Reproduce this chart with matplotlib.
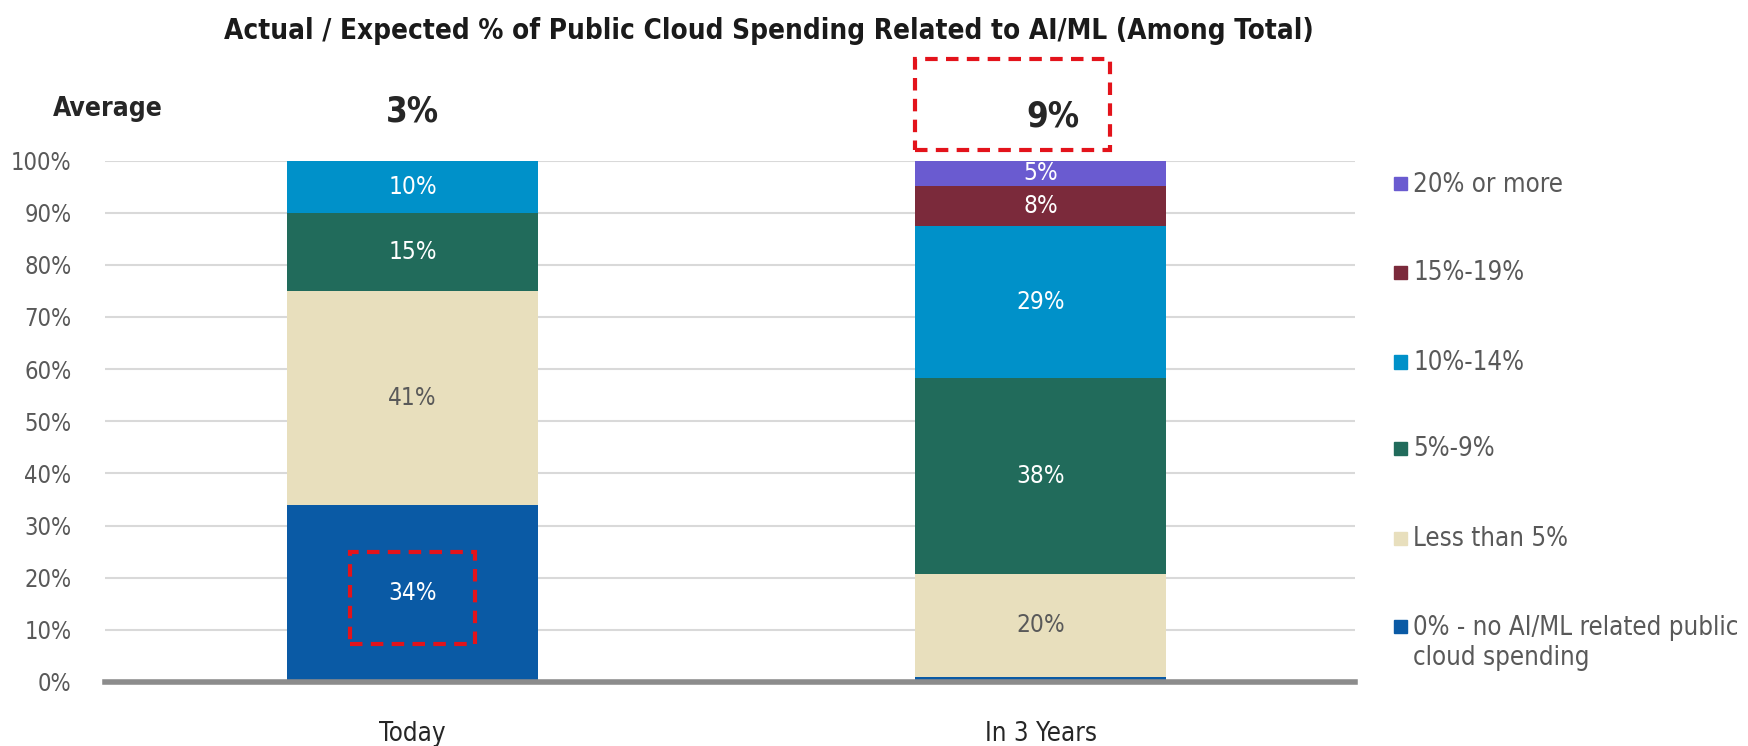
import matplotlib
matplotlib.use("Agg")
import matplotlib.pyplot as plt
from matplotlib.patches import Rectangle

plt.rcParams["font.family"] = ["DejaVu Sans"]
plt.rcParams["font.stretch"] = "condensed"

INK = "#262626"; MUTED = "#595959"; GRID = "#d9d9d9"; RED = "#e3131b"

periods = ["Today", "In 3 Years"]
averages = ["3%", "9%"]
buckets = ["0% - no AI/ML related public\ncloud spending", "Less than 5%", "5%-9%",
           "10%-14%", "15%-19%", "20% or more"]
colors = ["#0a5aa5", "#e8dfbd", "#216b5b", "#0091c9", "#7b2a3b", "#6a5bd0"]
label_colors = ["white", MUTED, "white", "white", "white", "white"]
today = [34, 41, 15, 10, 0, 0]
in_3_years = [1.0, 19.7, 37.6, 29.2, 7.6, 4.9]

fig = plt.figure(figsize=(17.48, 7.46), dpi=100)
ax = fig.add_axes([0.06, 0.0858, 0.715, 0.699])

x = [0, 1]
bottoms = [0.0, 0.0]
for i, name in enumerate(buckets):
    vals = [today[i], in_3_years[i]]
    ax.bar(x, vals, width=0.4, bottom=bottoms, color=colors[i], zorder=3)
    for xi, v, b in zip(x, vals, bottoms):
        if v >= 3:
            ax.text(xi, b + v / 2, f"{v:.0f}%", ha="center", va="center",
                    fontsize=17.5, color=label_colors[i], zorder=4)
    bottoms = [b + v for b, v in zip(bottoms, vals)]

ax.set_xlim(-0.49, 1.50)
ax.set_ylim(0, 100)
ax.set_yticks(range(0, 101, 10), [f"{t}%" for t in range(0, 101, 10)])
ax.set_xticks(x, periods)
ax.tick_params(length=0, labelsize=17, colors=MUTED)
ax.tick_params(axis="x", labelsize=18.5, pad=28, colors=INK)
ax.tick_params(axis="y", pad=24)
ax.grid(axis="y", color=GRID, linewidth=1.5, zorder=0)
for s in ["top", "right", "left"]:
    ax.spines[s].set_visible(False)
ax.spines["bottom"].set_color("#8c8c8c")
ax.spines["bottom"].set_linewidth(4)
ax.spines["bottom"].set_zorder(5)

# average row above the bars
fig.text(0.030, 0.854, "Average", fontsize=19, fontweight="bold", color=INK, va="center")
ax.text(0, 109.5, averages[0], ha="center", va="center", fontsize=25,
        fontweight="bold", color=INK, clip_on=False)
ax.text(1.02, 108.5, averages[1], ha="center", va="center", fontsize=25,
        fontweight="bold", color=INK, clip_on=False)

# red dashed highlight boxes
for (x0, y0, w, h) in [(0.80, 102, 0.31, 17.5), (-0.10, 7.3, 0.20, 17.6)]:
    ax.add_patch(Rectangle((x0, y0), w, h, fill=False, edgecolor=RED,
                           linestyle=(0, (3, 2)), linewidth=3, zorder=6, clip_on=False))

fig.text(0.44, 0.958, "Actual / Expected % of Public Cloud Spending Related to AI/ML (Among Total)",
         ha="center", va="center", fontsize=20, fontweight="bold", color="#1a1a1a")

# legend, top entry first
leg_y = [0.756, 0.637, 0.517, 0.401, 0.281, 0.162]
for yy, name, c in zip(leg_y, buckets[::-1], colors[::-1]):
    fig.patches.append(Rectangle((0.7975, yy - 0.011), 0.0075, 0.0175, color=c,
                                 transform=fig.transFigure, figure=fig))
    fig.text(0.8085, yy + 0.014, name, fontsize=18.5, color=MUTED, va="top",
             linespacing=1.2)

fig.savefig("out.png", dpi=100)
